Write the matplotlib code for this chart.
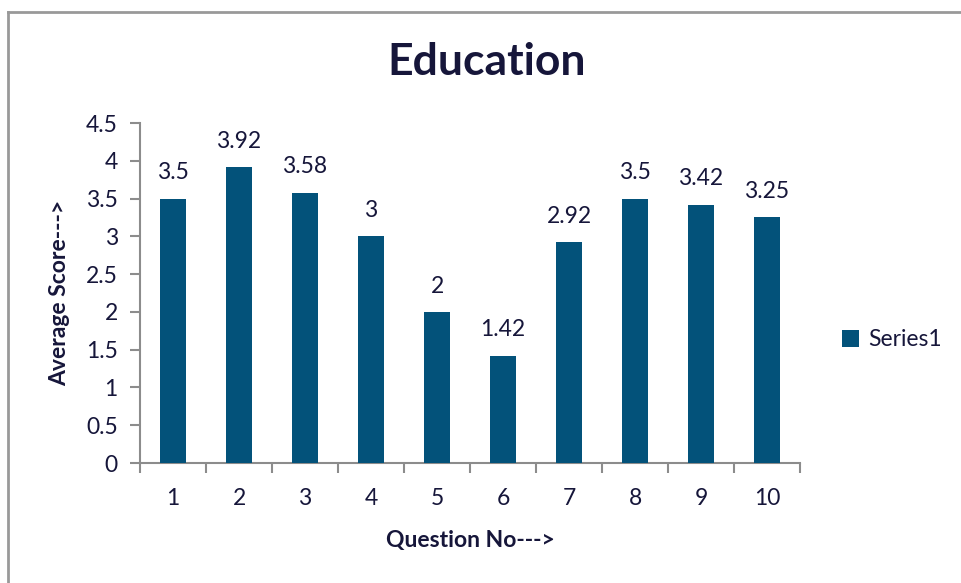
import matplotlib
matplotlib.use("Agg")
import matplotlib.pyplot as plt
from matplotlib.lines import Line2D
from matplotlib.patches import Patch
import numpy as np

categories = ["1", "2", "3", "4", "5", "6", "7", "8", "9", "10"]
values = [3.5, 3.92, 3.58, 3, 2, 1.42, 2.92, 3.5, 3.42, 3.25]
value_labels = ["3.5", "3.92", "3.58", "3", "2", "1.42", "2.92", "3.5", "3.42", "3.25"]
yticks = [0, 0.5, 1, 1.5, 2, 2.5, 3, 3.5, 4, 4.5]
ytick_labels = ["0", "0.5", "1", "1.5", "2", "2.5", "3", "3.5", "4", "4.5"]
series_name = "Series1"

plt.rcParams['font.family'] = ['Lato', 'DejaVu Sans']
txt = "#16163a"
bar_color = "#03527a"
spine_c = "#8c8c8c"
fs = 16.5

W, H = 961, 583
fig = plt.figure(figsize=(W / 100, H / 100), dpi=100)
ax = fig.add_axes([140 / W, (H - 463) / H, (800 - 140) / W, (463 - 123) / H])

x = np.arange(len(categories))
ax.bar(x, values, width=0.4, color=bar_color, zorder=3)
for xi, v, lab in zip(x, values, value_labels):
    ax.annotate(lab, (xi, v), xytext=(0, 11), textcoords="offset points",
                ha="center", va="bottom", fontsize=fs, color=txt)

ax.set_xlim(-0.5, len(categories) - 0.5)
ax.set_ylim(0, 4.5)
ax.set_yticks(yticks)
ax.set_yticklabels(ytick_labels, fontsize=fs, color=txt)
ax.set_xticks(x)
ax.set_xticklabels(categories, fontsize=fs, color=txt)
ax.tick_params(axis="x", length=0, pad=18)
ax.set_xticks(np.arange(len(categories) + 1) - 0.5, minor=True)
ax.tick_params(axis="x", which="minor", length=7, width=1.5, color=spine_c, direction="out")
ax.tick_params(axis="y", length=7, width=1.5, color=spine_c, direction="out", pad=9)

for s in ["top", "right"]:
    ax.spines[s].set_visible(False)
for s in ["left", "bottom"]:
    ax.spines[s].set_color(spine_c)
    ax.spines[s].set_linewidth(1.5)

ax.set_xlabel("Question No--->", fontsize=fs, fontweight="bold", color=txt, labelpad=15)
ax.set_ylabel("Average Score--->", fontsize=fs, fontweight="bold", color=txt, labelpad=11)

fig.text(487 / W, 1 - 62 / H, "Education", ha="center", va="center",
         fontsize=32, fontweight="bold", color=txt)

handles = [Patch(facecolor=bar_color, label=series_name)]
fig.legend(handles=handles, loc="center left", bbox_to_anchor=(821 / W, 1 - 340 / H),
           frameon=False, fontsize=fs, handlelength=0.75, handleheight=0.75,
           handletextpad=0.4, labelcolor=txt)

# chart area border
fig.add_artist(Line2D([8 / W, 8 / W], [0, 1 - 11.5 / H], transform=fig.transFigure,
                      color="#999999", lw=2))
fig.add_artist(Line2D([8 / W, 1], [1 - 11.5 / H, 1 - 11.5 / H], transform=fig.transFigure,
                      color="#999999", lw=2))

fig.savefig("out.png", dpi=100)
